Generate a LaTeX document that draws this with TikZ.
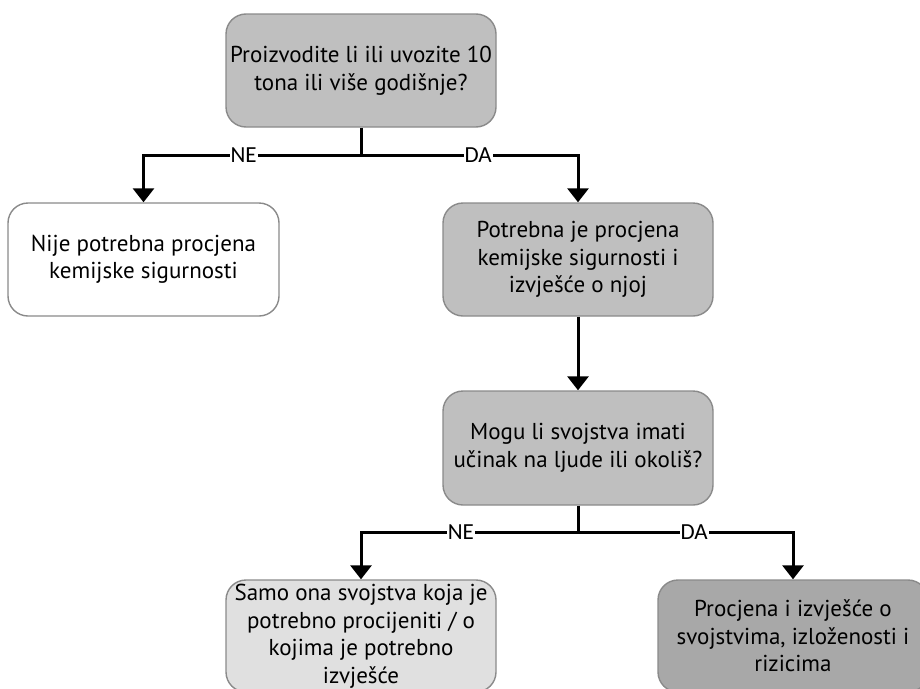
\documentclass[tikz,border=0pt]{standalone}
\usepackage{fontspec}
\setmainfont{PT Sans}
\newfontfamily\labelfont{Carlito}
\usetikzlibrary{arrows.meta}
\definecolor{boxgray}{HTML}{BFBFBF}
\definecolor{boxlight}{HTML}{E0E0E0}
\definecolor{boxdark}{HTML}{A8A8A8}
\definecolor{edgegray}{HTML}{8A8A8A}
\begin{document}
\begin{tikzpicture}[x=1pt,y=-1pt,
  box/.style={draw=edgegray, line width=1.4pt, rounded corners=20pt,
    minimum width=270pt, minimum height=113pt, align=center,
    font=\fontsize{23}{27.5}\selectfont, inner sep=2pt},
  arr/.style={line width=3pt, -{Triangle[width=21pt,length=14pt]}},
  link/.style={line width=3pt},
  lbl/.style={fill=white, inner sep=1pt, font=\labelfont\fontsize{23}{24}\selectfont}]
\useasboundingbox (0,0) rectangle (920,688);

\node[box, fill=boxgray] (q1) at (361,70.5)
  {Proizvodite li ili uvozite 10\\tona ili više godišnje?};
\node[box, fill=white, minimum width=271pt] (no1) at (143.5,259.5)
  {Nije potrebna procjena\\kemijske sigurnosti};
\node[box, fill=boxgray] (yes1) at (578,259.5)
  {Potrebna je procjena\\kemijske sigurnosti i\\izvješće o njoj};
\node[box, fill=boxgray, minimum height=114pt] (q2) at (578,448)
  {Mogu li svojstva imati\\učinak na ljude ili okoliš?};
\node[box, fill=boxlight, minimum height=112pt] (no2) at (361,636)
  {Samo ona svojstva koja je\\potrebno procijeniti / o\\kojima je potrebno\\izvješće};
\node[box, fill=boxdark, minimum height=112pt] (yes2) at (793,636)
  {Procjena i izvješće o\\svojstvima, izloženosti i\\rizicima};

% first decision
\coordinate (j1) at (361,155);
\draw[link] (q1.south) -- (j1);
\draw[arr] (j1) -| node[lbl, pos=0.27] {NE} (no1.north);
\draw[arr] (j1) -| node[lbl, pos=0.27] {DA} (yes1.north);

\draw[arr] (yes1.south) -- (q2.north);

% second decision
\coordinate (j2) at (578,532);
\draw[link] (q2.south) -- (j2);
\draw[arr] (j2) -| node[lbl, pos=0.27] {NE} (no2.north);
\draw[arr] (j2) -| node[lbl, pos=0.27] {DA} (yes2.north);
\end{tikzpicture}
\end{document}
